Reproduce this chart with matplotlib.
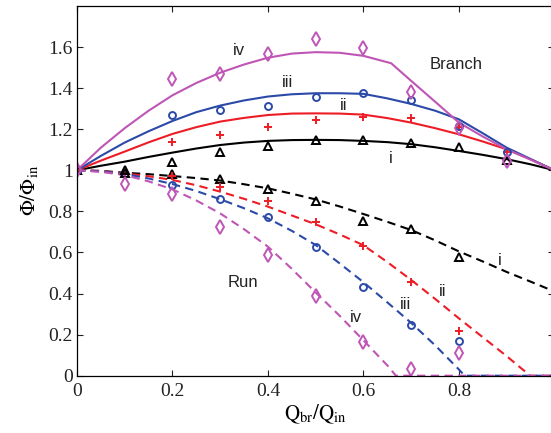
import numpy as np
import matplotlib.pyplot as plt

plt.rcParams['mathtext.fontset'] = 'stix'
plt.rcParams['font.family'] = 'Liberation Serif'

# colours for the four cases i..iv
c_i, c_ii, c_iii, c_iv = 'k', '#ee1c25', '#2b4aa8', '#bf55b5'

# --- branch flux, model curves ---
xb = [0, .05, .1, .15, .2, .25, .3, .35, .4, .45, .5, .55, .6, .65, .7, .75, .8, .85, .9, .95, 1]
br_i = [1.0, 1.022, 1.042, 1.065, 1.086, 1.106, 1.123, 1.135, 1.143, 1.147, 1.148,
        1.147, 1.143, 1.137, 1.127, 1.112, 1.094, 1.075, 1.054, 1.029, 1.0]
br_ii = [1.0, 1.047, 1.091, 1.136, 1.177, 1.21, 1.237, 1.255, 1.269, 1.276, 1.277,
         1.276, 1.271, 1.254, 1.232, 1.205, 1.175, 1.14, 1.102, 1.053, 1.0]
br_iii = [1.0, 1.07, 1.135, 1.19, 1.24, 1.283, 1.315, 1.34, 1.359, 1.37, 1.375,
          1.375, 1.372, 1.35, 1.323, 1.29, 1.248, 1.18, 1.11, 1.055, 1.0]
xb_iv = [0, .05, .1, .15, .2, .25, .3, .35, .4, .45, .5, .55, .6, .658, .7, .75, .8, .85, .9, .95, 1]
br_iv = [1.0, 1.11, 1.205, 1.29, 1.365, 1.425, 1.475, 1.515, 1.548, 1.568, 1.575,
         1.572, 1.557, 1.521, 1.435, 1.334, 1.232, 1.164, 1.102, 1.052, 1.0]

# --- run flux, model curves (clipped at zero) ---
xr_i = [0, .05, .1, .15, .2, .25, .3, .35, .4, .45, .5, .55, .6, .65, .7, .75, .8, .85, .9, .95, 1]
run_i = [1.0, .997, .988, .981, .972, .962, .95, .932, .912, .886, .858, .824, .787,
         .749, .709, .659, .605, .556, .505, .458, .41]
xr_ii = [0, .05, .1, .15, .2, .25, .3, .35, .4, .45, .5, .55, .6, .65, .7, .75, .8, .85, .9, .949, 1]
run_ii = [1.0, .996, .985, .971, .953, .927, .896, .861, .823, .78, .737, .688, .635,
          .553, .466, .374, .279, .187, .095, 0, 0]
xr_iii = [0, .05, .1, .15, .2, .25, .3, .35, .4, .45, .5, .55, .6, .65, .7, .75, .8, .812, 1]
run_iii = [1.0, .995, .982, .96, .933, .899, .859, .815, .766, .705, .636, .547, .455,
           .357, .257, .148, .03, 0, 0]
xr_iv = [0, .05, .1, .15, .2, .25, .3, .35, .4, .45, .5, .55, .6, .65, .668, 1]
run_iv = [1.0, .992, .977, .946, .907, .853, .79, .713, .628, .52, .405, .292, .172,
          .05, 0, 0]

# --- measured points ---
xm = [0, .1, .2, .3, .4, .5, .6, .7, .8, .9]
m_br_i = [1.0, 1.0, 1.039, 1.091, 1.118, 1.148, 1.148, 1.135, 1.112, 1.05]
m_br_ii = [1.0, np.nan, 1.136, 1.172, 1.209, 1.245, 1.258, 1.253, 1.213, 1.09]
m_br_iii = [1.0, np.nan, 1.269, 1.294, 1.315, 1.359, 1.378, 1.342, 1.217, 1.091]
m_br_iv = [1.0, np.nan, 1.443, 1.469, 1.565, 1.638, 1.594, 1.380, 1.208, 1.045]

xm_run = [0, .1, .2, .3, .4, .5, .6, .7, .8]
m_run_i = [1.0, .989, .982, .958, .911, .852, .753, .714, .576]
m_run_ii = [1.0, np.nan, .97, .92, .852, .748, .631, .456, .219]
m_run_iii = [1.0, np.nan, .929, .859, .771, .628, .43, .247, .17]
m_run_iv = [1.0, .932, .883, .726, .588, .388, .166, .032, .112]

fig = plt.figure(figsize=(5.51, 4.33), dpi=100)
ax = fig.add_axes([0.1397, 0.1323, 0.8666, 0.854])

lw = 1.5
dash = (0, (4, 2.6))
for x, y, c in [(xb, br_i, c_i), (xb, br_ii, c_ii), (xb, br_iii, c_iii), (xb_iv, br_iv, c_iv)]:
    ax.plot(x, y, color=c, lw=lw)
for x, y, c in [(xr_i, run_i, c_i), (xr_ii, run_ii, c_ii), (xr_iii, run_iii, c_iii), (xr_iv, run_iv, c_iv)]:
    ax.plot(x, y, color=c, lw=lw, linestyle=dash)

mk = dict(linestyle='none', markerfacecolor='none', markeredgewidth=1.4)
for ys, xs in [(m_br_i, xm), (m_run_i, xm_run)]:
    ax.plot(xs, ys, marker='^', ms=5.8, color=c_i, **mk)
for ys, xs in [(m_br_ii, xm), (m_run_ii, xm_run)]:
    ax.plot(xs, ys, marker='+', ms=5.2, color=c_ii, **mk)
for ys, xs in [(m_br_iii, xm), (m_run_iii, xm_run)]:
    ax.plot(xs, ys, marker='o', ms=5, color=c_iii, **mk)
for ys, xs in [(m_br_iv, xm), (m_run_iv, xm_run)]:
    ax.plot(xs, ys, marker='d', ms=6.8, color=c_iv, **mk)

# case labels
lab = dict(family='Liberation Sans', fontsize=12, ha='center', va='center', color='#222222')
ax.text(0.339, 1.585, 'iv', **lab)
ax.text(0.44, 1.425, 'iii', **lab)
ax.text(0.559, 1.313, 'ii', **lab)
ax.text(0.657, 1.055, 'i', **lab)
ax.text(0.794, 1.513, 'Branch', **lab)
ax.text(0.348, 0.453, 'Run', **lab)
ax.text(0.886, 0.563, 'i', **lab)
ax.text(0.766, 0.409, 'ii', **lab)
ax.text(0.687, 0.347, 'iii', **lab)
ax.text(0.584, 0.283, 'iv', **lab)

ax.set_xlim(0, 1)
ax.set_ylim(0, 1.8)
ax.set_xticks([0, .2, .4, .6, .8, 1])
ax.set_xticklabels(['0', '0.2', '0.4', '0.6', '0.8', ''])
ax.set_yticks([0, .2, .4, .6, .8, 1, 1.2, 1.4, 1.6])
ax.set_yticklabels(['0', '0.2', '0.4', '0.6', '0.8', '1', '1.2', '1.4', '1.6'])
ax.tick_params(direction='in', length=4, width=0.8, top=True, right=True,
               labelsize=14, colors='#222222')
ax.tick_params(axis='x', pad=5)
ax.tick_params(axis='y', pad=3)
for s in ax.spines.values():
    s.set_linewidth(0.9)

ax.set_xlabel(r'$\mathrm{Q_{br}/Q_{in}}$', fontsize=15, labelpad=2)
ax.set_ylabel(r'$\mathrm{\Phi/\Phi_{in}}$', fontsize=15, labelpad=6)

fig.savefig('out.png', dpi=100)
